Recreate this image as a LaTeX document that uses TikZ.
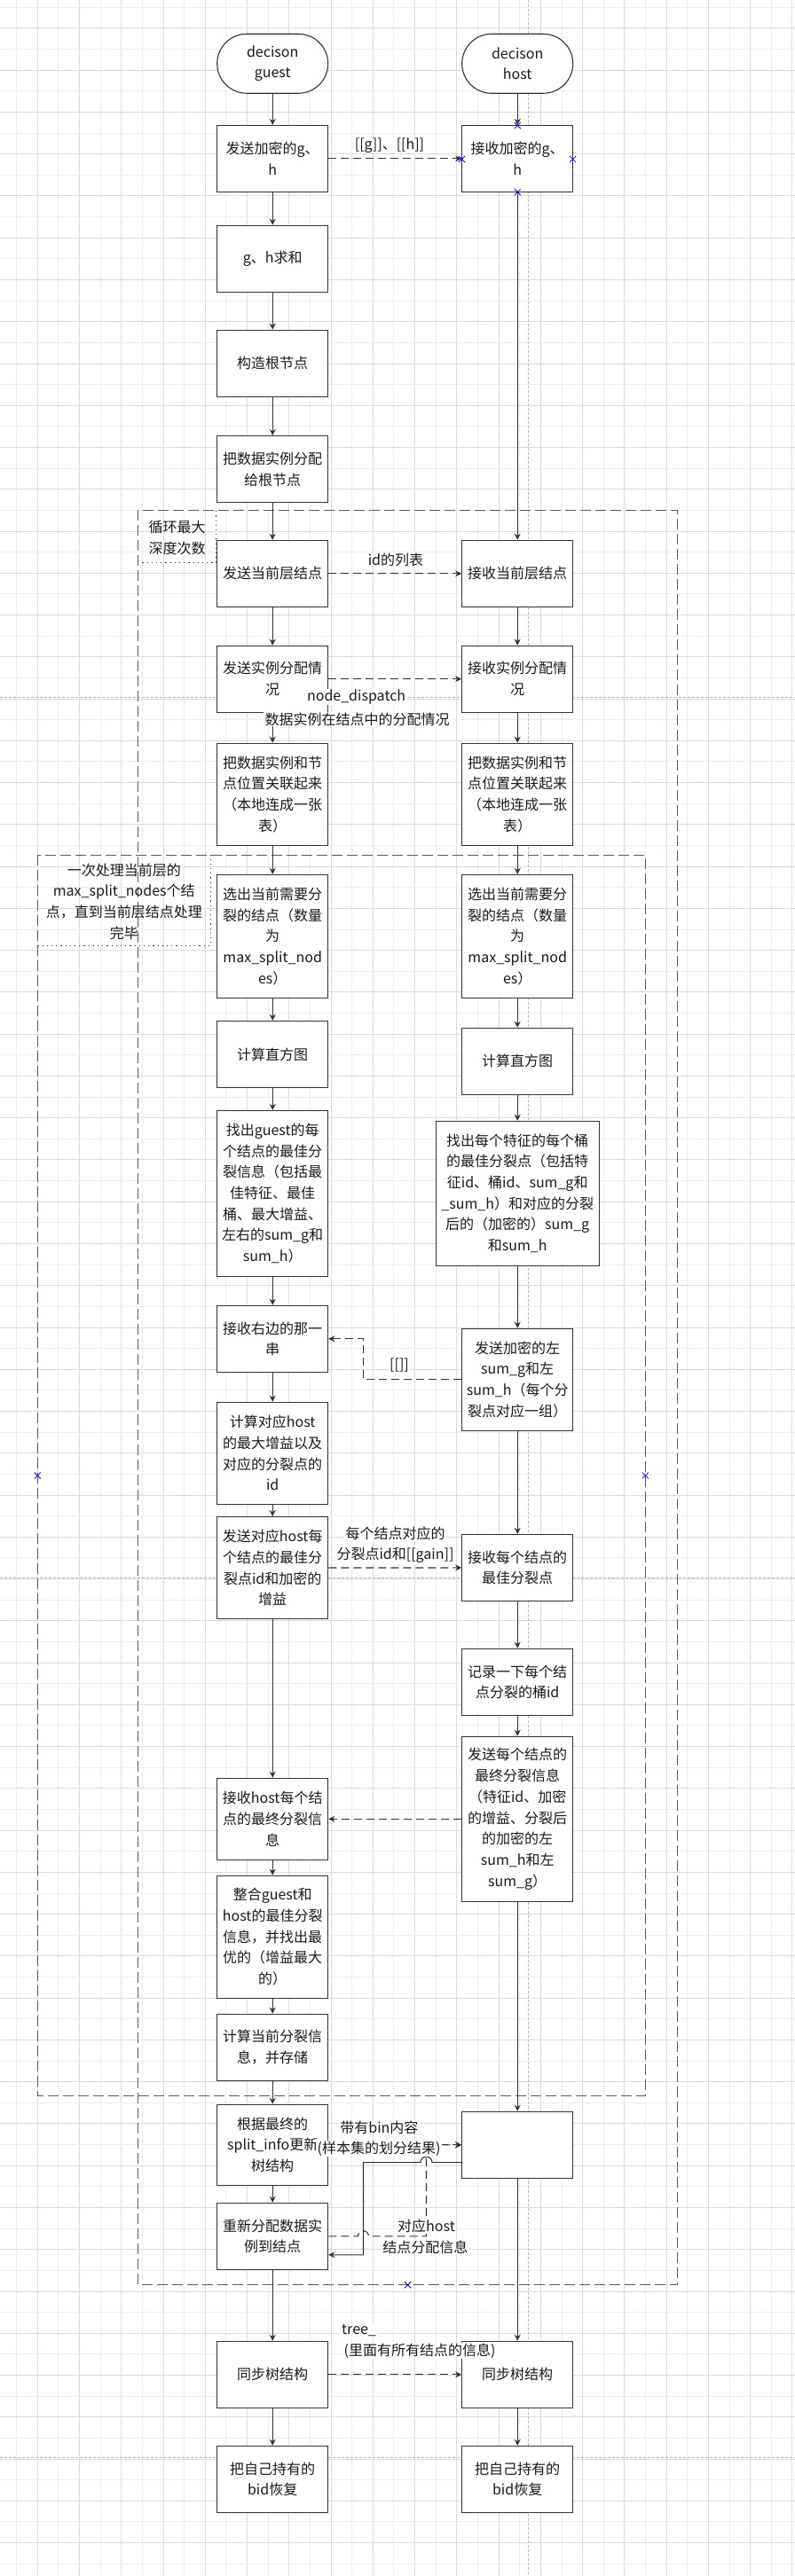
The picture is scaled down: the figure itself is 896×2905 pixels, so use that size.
\documentclass[tikz,border=0pt]{standalone}
\usepackage{fontspec}
\setmainfont{Noto Sans CJK SC}
\usetikzlibrary{arrows.meta,calc}
\definecolor{lc}{HTML}{333333}
\definecolor{gridA}{HTML}{EDEDED}
\definecolor{gridB}{HTML}{DADADA}
\definecolor{framec}{HTML}{5A5A5A}
\definecolor{pagec}{HTML}{B8B8B8}
\definecolor{txt}{HTML}{1A1A1A}
\newcommand\bluecross[1]{\draw[bluex] #1 ++(-3.5,-3.5) -- ++(7,7) #1 ++(-3.5,3.5) -- ++(7,-7);}
\begin{document}
\begin{tikzpicture}[x=1pt,y=-1pt,font=\fontsize{16}{23.7}\selectfont,text=txt,
  box/.style={draw=lc, line width=1.1pt, fill=white, minimum width=125pt, inner sep=2pt, align=center},
  term/.style={box, rounded corners=33.5pt, minimum height=67pt},
  flow/.style={draw=lc, line width=1.1pt, -{Stealth[length=7pt,width=7pt]}},
  msg/.style={flow, dash pattern=on 9pt off 5pt},
  lbl/.style={fill=white, inner xsep=1.5pt, inner ysep=1pt, align=center},
  frame/.style={draw=framec, line width=1.2pt, dash pattern=on 12pt off 5pt},
  tag/.style={draw=lc, line width=1pt, dash pattern=on 1.2pt off 4pt},
  bluex/.style={draw=blue, line width=0.8pt}]
\useasboundingbox (0,0) rectangle (896,2905);
\fill[white] (0,0) rectangle (896,2905);
% grid
\begin{scope}
\clip (0,0) rectangle (896,2905);
\foreach \i in {0,...,18} {
  \draw[gridA, line width=1pt] ({18.65+47.26*\i},0) -- ++(0,2905);
  \draw[gridB, line width=1pt] ({42.28+47.26*\i},0) -- ++(0,2905);
}
\foreach \i in {0,...,61} {
  \draw[gridA, line width=1pt] (0,{8.3+47.26*\i}) -- ++(896,0);
  \draw[gridB, line width=1pt] (0,{31.93+47.26*\i}) -- ++(896,0);
}
\end{scope}
% page breaks
\draw[pagec, line width=0.8pt, dash pattern=on 3pt off 2pt] (595.6,0) -- (595.6,2905);
\foreach \yy in {786.8,1779.3,2771.7} \draw[pagec, line width=0.8pt, dash pattern=on 3pt off 2pt] (0,\yy) -- (896,\yy);
% frames
\draw[frame] (155.2,575.4) rectangle (763.7,2576.7);
\draw[tag] (155.2,634.3) -| (243.8,575.4);
\node[align=center] (t1) at (199.5,606.5) {循环最大\\深度次数};
\draw[frame] (42.3,964.3) rectangle (727.4,2363.7);
\draw[tag] (42.3,1066) -| (237.3,964.3);
\node[align=center] (t2) at (139.8,1016.5) {一次处理当前层的\\max\_split\_nodes个结\\点，直到当前层结点处理\\完毕};
% guest column
\node[term] (g0) at (307.2,71.75) {decison\\guest};
\node[box, minimum height=75pt] (g1) at (307.2,178.9) {发送加密的g、\\h};
\node[box, minimum height=75pt] (g2) at (307.2,291.8) {g、h求和};
\node[box, minimum height=75pt] (g3) at (307.2,409.7) {构造根节点};
\node[box, minimum height=75pt] (g4) at (307.2,529.1) {把数据实例分配\\给根节点};
\node[box, minimum height=75pt] (g5) at (307.2,646.8) {发送当前层结点};
\node[box, minimum height=75pt] (g6) at (307.2,765.7) {发送实例分配情\\况};
\node[box, minimum height=115pt] (g7) at (307.2,895.7) {把数据实例和节\\点位置关联起来\\（本地连成一张\\表）};
\node[box, minimum height=139pt] (g8) at (307.2,1055.9) {选出当前需要分\\裂的结点（数量\\为\\max\_split\_nod\\es）};
\node[box, minimum height=75pt] (g9) at (307.2,1188.9) {计算直方图};
\node[box, minimum height=187pt] (g10) at (307.2,1345.9) {找出guest的每\\个结点的最佳分\\裂信息（包括最\\佳特征、最佳\\桶、最大增益、\\左右的sum\_g和\\sum\_h）};
\node[box, minimum height=75pt] (g11) at (307.2,1509.8) {接收右边的那一\\串};
\node[box, minimum height=115pt] (g12) at (307.2,1638.7) {计算对应host\\的最大增益以及\\对应的分裂点的\\id};
\node[box, minimum height=115pt] (g13) at (307.2,1768) {发送对应host每\\个结点的最佳分\\裂点id和加密的\\增益};
\node[box, minimum height=92pt] (g14) at (307.2,2051.3) {接收host每个结\\点的最终分裂信\\息};
\node[box, minimum height=138pt] (g15) at (307.2,2184.2) {整合guest和\\host的最佳分裂\\信息，并找出最\\优的（增益最大\\的）};
\node[box, minimum height=75pt] (g16) at (307.2,2308.7) {计算当前分裂信\\息，并存储};
\node[box, minimum height=91pt] (g17) at (307.2,2418.8) {根据最终的\\split\_info更新\\树结构};
\node[box, minimum height=75pt] (g18) at (307.2,2521.8) {重新分配数据实\\例到结点};
\node[box, minimum height=75pt] (g19) at (307.2,2677.8) {同步树结构};
\node[box, minimum height=75pt] (g20) at (307.2,2795.8) {把自己持有的\\bid恢复};
% host column
\node[term] (h0) at (583.2,71.75) {decison\\host};
\node[box, minimum height=75pt] (h1) at (583.2,178.9) {接收加密的g、\\h};
\node[box, minimum height=75pt] (h2) at (583.2,646.8) {接收当前层结点};
\node[box, minimum height=75pt] (h3) at (583.2,765.7) {接收实例分配情\\况};
\node[box, minimum height=115pt] (h4) at (583.2,895.7) {把数据实例和节\\点位置关联起来\\（本地连成一张\\表）};
\node[box, minimum height=139pt] (h5) at (583.2,1055.9) {选出当前需要分\\裂的结点（数量\\为\\max\_split\_nod\\es）};
\node[box, minimum height=75pt] (h6) at (583.2,1196.8) {计算直方图};
\node[box, minimum height=163pt, minimum width=184pt] (h7) at (583.2,1345.7) {找出每个特征的每个桶\\的最佳分裂点（包括特\\征id、桶id、sum\_g和\\\_sum\_h）和对应的分裂\\后的（加密的）sum\_g\\和sum\_h};
\node[box, minimum height=115pt] (h8) at (583.2,1555.7) {发送加密的左\\sum\_g和左\\sum\_h（每个分\\裂点对应一组）};
\node[box, minimum height=75pt] (h9) at (583.2,1767.9) {接收每个结点的\\最佳分裂点};
\node[box, minimum height=75pt] (h10) at (583.2,1896.8) {记录一下每个结\\点分裂的桶id};
\node[box, minimum height=186pt] (h11) at (583.2,2051.3) {发送每个结点的\\最终分裂信息\\（特征id、加密\\的增益、分裂后\\的加密的左\\sum\_h和左\\sum\_g）};
\node[box, minimum height=75pt] (h12) at (583.2,2418.8) {};
\node[box, minimum height=75pt] (h13) at (583.2,2677.8) {同步树结构};
\node[box, minimum height=75pt] (h14) at (583.2,2795.8) {把自己持有的\\bid恢复};
% vertical flows
\foreach \a/\b in {g0/g1,g1/g2,g2/g3,g3/g4,g4/g5,g5/g6,g6/g7,g7/g8,g8/g9,g9/g10,g10/g11,g11/g12,g12/g13,g13/g14,g14/g15,g15/g16,g16/g17,g17/g18,g18/g19,g19/g20,
  h0/h1,h1/h2,h2/h3,h3/h4,h4/h5,h5/h6,h6/h7,h7/h8,h8/h9,h9/h10,h10/h11,h11/h12,h12/h13,h13/h14}
  \draw[flow] (\a) -- (\b);
% messages
\coordinate (j1) at (409.5,1530);
\coordinate (j2) at (480.5,2470);
\draw[msg] (g1) -- (h1);
\draw[msg] (g5) -- (h2);
\draw[msg] (g6) -- (h3);
\draw[msg] (h8.west) -- (h8.west -| j1) -- (g11.east -| j1) -- (g11.east);
\draw[msg] (g13) -- (h9);
\draw[msg] (h11) -- (g14);
\draw[msg] (g17) -- (h12);
\coordinate (s1) at ($(h12.west)+(0,19.8)$);
\coordinate (s2) at ($(g18.east)+(0,21)$);
\draw[flow] (s1) -- ($(j2 |- s1)+(6.5,0)$) arc[start angle=0,end angle=-180,radius=6.5] -- (j1 |- s1) -- (j1 |- s2) -- (s2);
\draw[msg] (g18.east) -- ($(j1 |- g18.east)+(-6,0)$) arc[start angle=180,end angle=360,radius=6] -- (j2 |- g18.east) -- (j2 |- h12.west) -- (h12.west);
\draw[msg] (g19) -- (h13);
% labels (one background per line)
\node[lbl] (l1) at (439,164) {[[g]]、[[h]]};
\node[lbl] (l2) at (446,631.4) {id的列表};
\node[lbl] (l3a) at (401.6,786) {node\_dispatch};
\node[lbl] (l3b) at (402.5,811) {数据实例在结点中的分配情况};
\node[lbl] (l4) at (450,1540) {[[]]};
\node[lbl] (l5a) at (445.5,1729) {每个结点对应的};
\node[lbl] (l5b) at (445.5,1753.6) {分裂点id和[[gain]]};
\node[lbl] (l6a) at (427.4,2399) {带有bin内容};
\node[lbl] (l6b) at (427,2423) {(样本集的划分结果)};
\node[lbl] (l7a) at (480.5,2510) {对应host};
\node[lbl] (l7b) at (479.3,2534) {结点分配信息};
\node[lbl, anchor=west] (l8a) at (383.5,2627.7) {tree\_};
\node[lbl, anchor=west] (l8b) at (386,2651) {(里面有所有结点的信息)\hspace*{7pt}};
% selection markers
\bluecross{(583.3,141.6)}
\bluecross{(520.5,179.5)}
\bluecross{(645.6,179.5)}
\bluecross{(583.3,216.6)}
\bluecross{(42.3,1664)}
\bluecross{(727.4,1664)}
\bluecross{(459.5,2576.7)}
\end{tikzpicture}
\end{document}
